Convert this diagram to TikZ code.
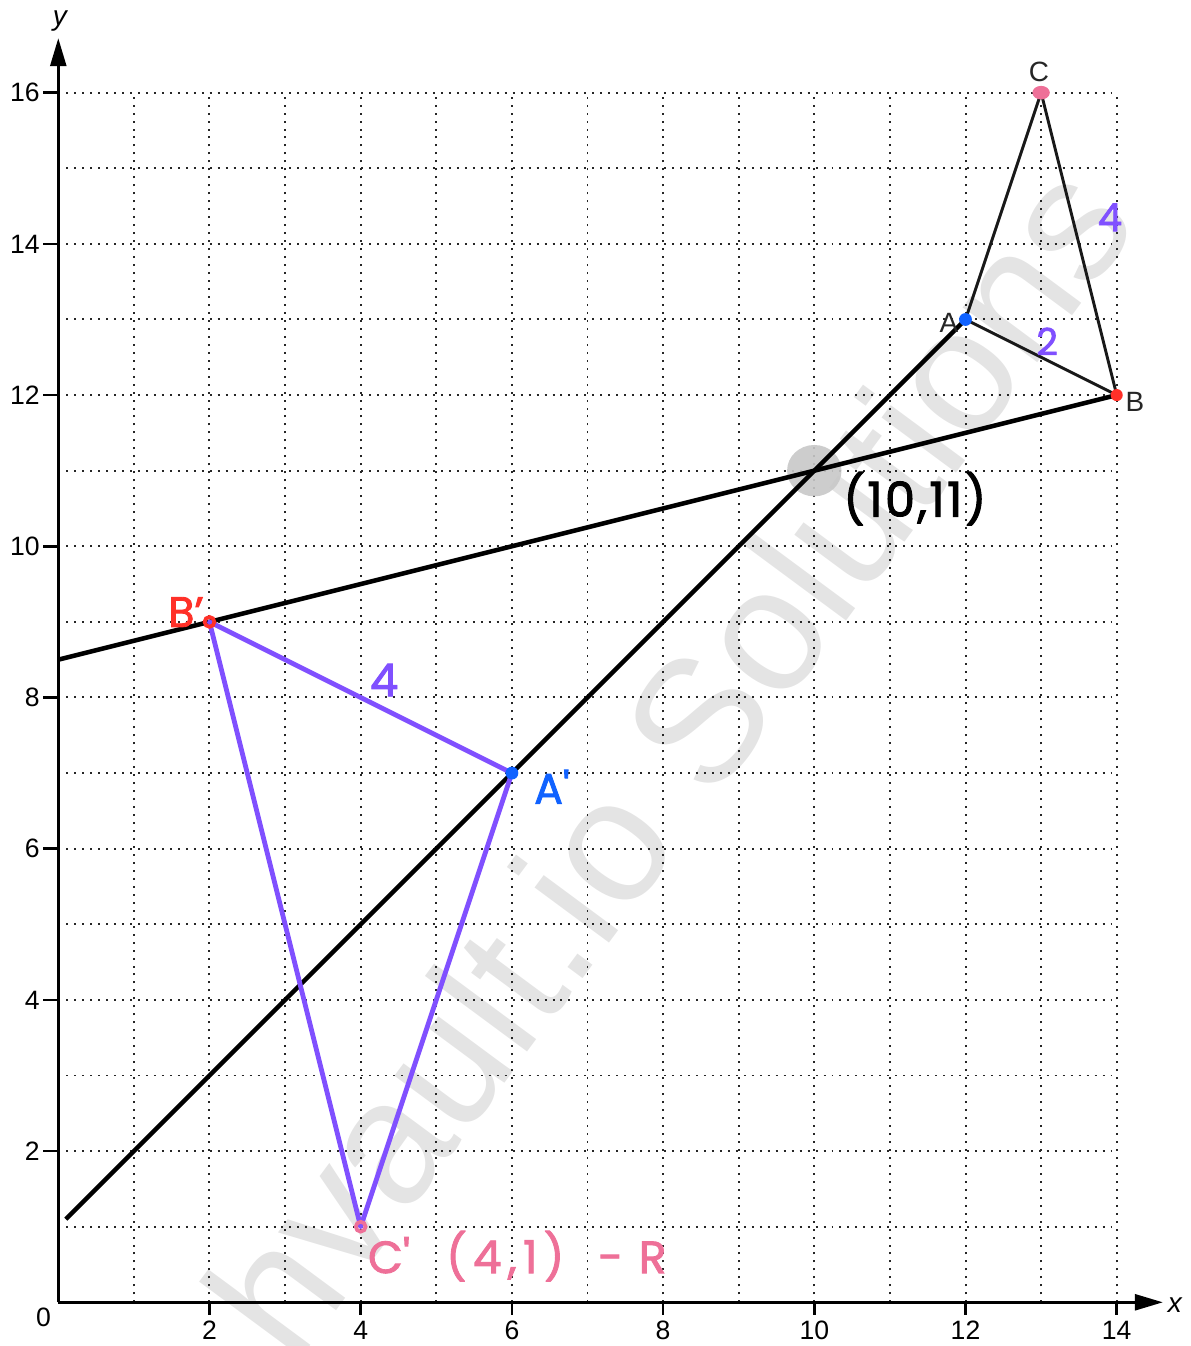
\documentclass[tikz,border=0pt]{standalone}
\usepackage{fontspec}
\setmainfont{Liberation Sans}
\newfontfamily\hand[FakeBold=2]{Poppins}
\newfontfamily\handmid[FakeBold=2,LetterSpace=5]{Poppins}
\usetikzlibrary{arrows.meta}
\definecolor{ptblue}{RGB}{16,98,255}
\definecolor{ptred}{RGB}{255,48,40}
\definecolor{ptpink}{RGB}{238,112,152}
\definecolor{ptpurple}{RGB}{128,80,255}
\definecolor{wmgray}{RGB}{228,228,228}
\definecolor{dotgray}{RGB}{200,200,200}
\begin{document}
\begin{tikzpicture}[x=1cm,y=1cm,
  gridline/.style={line width=0.75pt, dash pattern=on 0.75pt off 2.25pt, black!85},
  axisline/.style={line width=1pt, -{Triangle[length=10.5pt,width=6pt]}},
  tickmark/.style={line width=1pt},
  ticklabel/.style={inner sep=0pt, font=\fontsize{10}{12}\selectfont},
  ptlabel/.style={inner sep=0pt, font=\fontsize{10.5}{12}\selectfont, text=black!85},
  thickline/.style={line width=1.7pt, black},
  triline/.style={line width=1.1pt, black!90},
  purpleline/.style={line width=1.8pt, ptpurple, line join=round},
  handlabel/.style={inner sep=0pt},
  wm/.style={inner sep=0pt, text=wmgray, font=\fontsize{66}{70}\selectfont, rotate=53.5}
]
\useasboundingbox (-0.771,-0.578) rectangle (14.970,17.226);
% watermark
\begin{scope}
  \clip (-0.771,-0.578) rectangle (14.970,17.226);
  \node[wm] (wmark) at (8.06,7.2) {hvault.io Solutions};
\end{scope}
% grid
\foreach \i in {1,...,16} \draw[gridline] (0,\i) -- (14,\i);
\foreach \i in {1,...,14} \draw[gridline] (\i,0) -- (\i,16);
% axes
\coordinate (O) at (0,0);
\coordinate (xend) at (14.61,0);
\coordinate (yend) at (0,16.72);
\draw[axisline] (O) -- (xend);
\draw[axisline] (O) -- (yend);
\node[ticklabel, font=\fontsize{10.5}{12}\selectfont\itshape] (xlab) at (14.77,-0.04) {x};
\node[ticklabel, font=\fontsize{10.5}{12}\selectfont\itshape] (ylab) at (0.02,16.95) {y};
\node[ticklabel] (zero) at (-0.196,-0.2) {0};
\foreach \i in {2,4,...,14} {
  \draw[tickmark] (\i,0) -- (\i,-0.17);
  \node[ticklabel, anchor=north] (xt\i) at (\i,-0.24) {\i};
}
\foreach \i in {2,4,...,16} {
  \draw[tickmark] (0,\i) -- (-0.2,\i);
  \node[ticklabel, anchor=east] (yt\i) at (-0.24,\i) {\i};
}
% points
\coordinate (A) at (12,13);
\coordinate (B) at (14,12);
\coordinate (C) at (13,16);
\coordinate (A1) at (6,7);
\coordinate (B1) at (2,9);
\coordinate (C1) at (4,1);
\coordinate (L1) at (0,8.5);
\coordinate (L2) at (0.1,1.1);
\coordinate (P) at (10,11);
% centre of enlargement marker
\fill[dotgray, opacity=0.9] (P) ellipse (0.36 and 0.34);
% lines through centre
\draw[thickline] (B) -- (L1);
\draw[thickline] (A) -- (L2);
% original triangle
\draw[triline, line join=round] (A) -- (C) -- (B) -- cycle;
% image triangle
\draw[purpleline] (A1) -- (B1) -- (C1) -- cycle;
% dots
\fill[ptblue] (A) circle (0.085);
\fill[ptred] (B) circle (0.08);
\fill[ptpink] (C) ellipse (0.115 and 0.09);
\fill[ptblue] (A1) circle (0.085);
\draw[ptred, line width=1.4pt] (B1) circle (0.065);
\draw[ptpink, line width=1.4pt] (C1) circle (0.065);
% labels
\node[ptlabel] (Alab) at (11.78,12.95) {A};
\node[ptlabel] (Blab) at (14.24,11.91) {B};
\node[ptlabel] (Clab) at (12.97,16.28) {C};
\node[handlabel, text=ptred, font=\hand\fontsize{16}{18}\selectfont] (B1lab) at (1.69,9.13) {B’};
\node[handlabel, text=ptblue, font=\hand\fontsize{16}{18}\selectfont] (A1lab) at (6.53,6.82) {A'};
\node[handlabel, text=ptpink, font=\hand\fontsize{17}{20}\selectfont] (C1lab) at (6.07,0.61) {C'\hspace{0.8em}(\kern0.14em4\kern0.14em,\kern0.14em1\kern0.14em)\hspace{0.75em}-\hspace{0.35em}R};
\node[handlabel, text=black, font=\handmid\fontsize{18}{20}\selectfont] (Plab) at (11.33,10.63) {(10,11)};
\node[handlabel, text=ptpurple, font=\hand\fontsize{17}{18}\selectfont] (s1) at (4.31,8.23) {4};
\node[handlabel, text=ptpurple, font=\hand\fontsize{14}{18}\selectfont] (s2) at (13.08,12.71) {2};
\node[handlabel, text=ptpurple, font=\hand\fontsize{14.5}{18}\selectfont] (s3) at (13.91,14.35) {4};
\end{tikzpicture}
\end{document}
